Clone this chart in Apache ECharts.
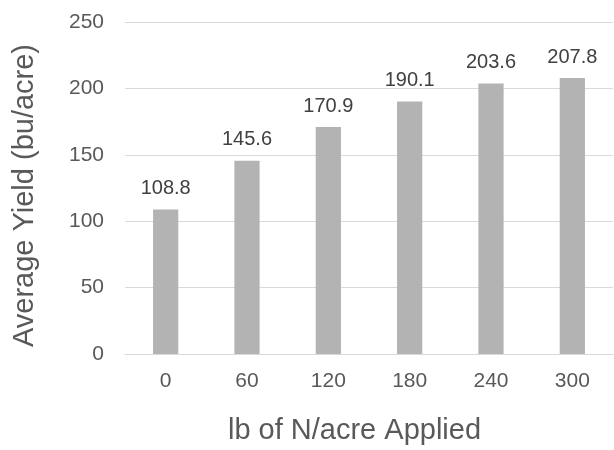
<!DOCTYPE html>
<html>
<head>
<meta charset="utf-8">
<script src="https://cdn.jsdelivr.net/npm/echarts@6/dist/echarts.min.js"></script>
<style>
  html, body { margin: 0; padding: 0; background: #fff; }
  #chart { width: 614px; height: 450px; }
</style>
</head>
<body>
<div id="chart"></div>
<script>
// Nitrogen rate (lb N/acre) and the resulting average corn yield
const nitrogenRates = ['0', '60', '120', '180', '240', '300'];
const avgYield = [108.8, 145.6, 170.9, 190.1, 203.6, 207.8];

const yTicks = { min: 0, max: 250, interval: 50 };

const fontFamily = '"Liberation Sans", Arial, Helvetica, sans-serif';
const chart = echarts.init(document.getElementById('chart'), null, { renderer: 'canvas' });

chart.setOption({
  animation: false,
  backgroundColor: '#ffffff',
  grid: { left: 125, right: 1, top: 22, bottom: 93, containLabel: false },
  xAxis: {
    type: 'category',
    data: nitrogenRates,
    name: 'lb of N/acre Applied',
    nameLocation: 'middle',
    nameGap: 62,
    nameTextStyle: { fontFamily, fontSize: 29, color: '#595959', padding: [0, 29, 0, 0] },
    axisLine: { show: true, lineStyle: { color: '#d9d9d9', width: 1 } },
    axisTick: { show: false },
    axisLabel: { fontFamily, fontSize: 21, color: '#595959', margin: 17 }
  },
  yAxis: {
    type: 'value',
    min: yTicks.min,
    max: yTicks.max,
    interval: yTicks.interval,
    name: 'Average Yield (bu/acre)',
    nameLocation: 'middle',
    nameGap: 86,
    nameTextStyle: { fontFamily, fontSize: 29, color: '#595959', padding: [0, 15, 0, 0] },
    axisLine: { show: false },
    axisTick: { show: false },
    axisLabel: { fontFamily, fontSize: 21, color: '#595959', margin: 21 },
    splitLine: { lineStyle: { color: '#d9d9d9', width: 1 } }
  },
  series: [{
    type: 'bar',
    data: avgYield,
    barWidth: '31%',
    itemStyle: { color: '#b3b3b3' },
    label: {
      show: true,
      position: 'top',
      distance: 11,
      fontFamily,
      fontSize: 20,
      color: '#404040',
      formatter: p => p.value.toFixed(1)
    }
  }]
});
</script>
</body>
</html>
